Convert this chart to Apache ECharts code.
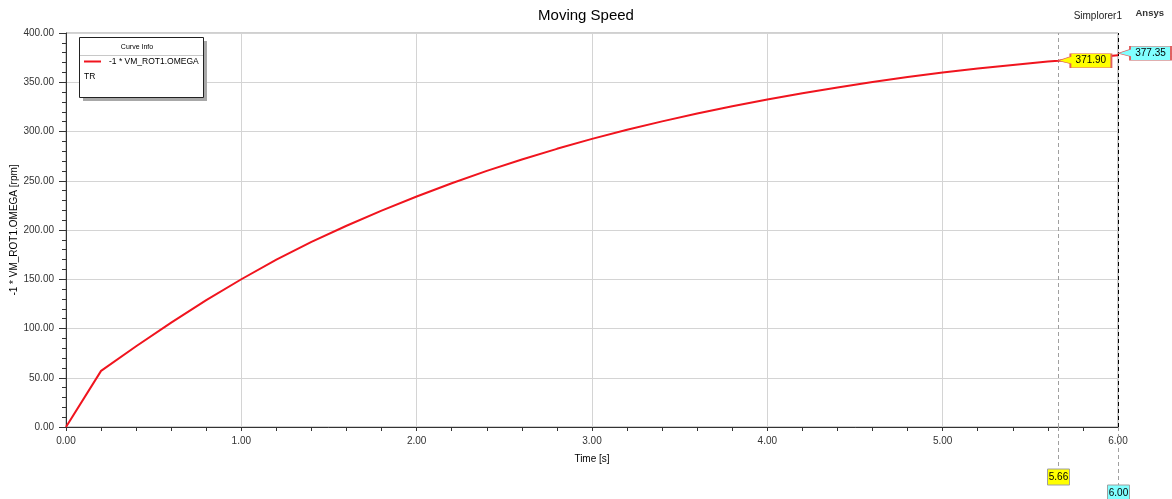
<!DOCTYPE html>
<html>
<head>
<meta charset="utf-8">
<script src="https://cdn.jsdelivr.net/npm/echarts@6/dist/echarts.min.js"></script>
<style>
html,body{margin:0;padding:0;background:#fff;}
#c{width:1172px;height:499px;}
</style>
</head>
<body>
<div id="c"></div>
<script>
// Data
const times  = [0, 0.2, 0.4, 0.6, 0.8, 1.0, 1.2, 1.4, 1.6, 1.8, 2.0, 2.2, 2.4, 2.6, 2.8, 3.0, 3.2, 3.4, 3.6, 3.8, 4.0, 4.2, 4.4, 4.6, 4.8, 5.0, 5.2, 5.4, 5.6, 5.66, 5.8, 6.0];
const speeds = [0, 57, 82, 106, 128.8, 150, 170, 188, 204.3, 219.6, 234, 247.5, 260, 271.6, 282.4, 292.5, 301.7, 310.3, 318.3, 325.7, 332.5, 338.8, 344.7, 350.2, 355.3, 360, 364, 367.6, 371, 371.9, 374.2, 377.35];
const seriesName = '-1 * VM_ROT1.OMEGA';
const markerTimes  = [5.66, 6.00];
const markerValues = [371.90, 377.35];
const markerFills  = ['#ffff00', '#80ffff'];
const markerLineColors = ['#a0a0a0', '#000000'];

const chart = echarts.init(document.getElementById('c'));
const FONT = 'Liberation Sans, Arial, sans-serif';
const calloutPath = 'path://M0 7 L12 3 L12 0 L53 0 L53 14 L12 14 L12 10 Z';

const option = {
  animation: false,
  backgroundColor: '#fff',
  textStyle: {fontFamily: FONT},
  title: {
    text: 'Moving Speed', left: 'center', top: 8, padding: 0,
    textStyle: {fontSize: 15, fontWeight: 'normal', color: '#000', fontFamily: FONT}
  },
  grid: {left: 66, right: 54, top: 33, bottom: 72, containLabel: false, outerBoundsMode: 'none',
    show: true, borderColor: '#a0a0a0', borderWidth: 1, backgroundColor: 'transparent'},
  legend: {
    show: true, left: 84, top: 57, z: 20, orient: 'vertical', padding: 0,
    icon: 'rect', itemWidth: 17, itemHeight: 2,
    textStyle: {fontSize: 8.5, color: '#000', fontFamily: FONT, padding: [0, 0, 0, 3]},
    data: [seriesName]
  },
  xAxis: {
    type: 'value', min: 0, max: 6, interval: 1,
    name: 'Time [s]', nameLocation: 'middle', nameGap: 27, nameMoveOverlap: false,
    nameTextStyle: {fontSize: 10, color: '#000', fontFamily: FONT},
    axisLine: {show: true, onZero: false, lineStyle: {color: '#333', width: 1}},
    axisTick: {show: true, length: 4, lineStyle: {color: '#333'}},
    minorTick: {show: true, splitNumber: 5, length: 4, lineStyle: {color: '#333'}},
    axisLabel: {fontSize: 10, color: '#333', margin: 9, formatter: v => v.toFixed(2), fontFamily: FONT},
    splitLine: {show: true, lineStyle: {color: '#d4d4d4', width: 1}}
  },
  yAxis: {
    type: 'value', min: 0, max: 400, interval: 50,
    name: '-1 * VM_ROT1.OMEGA [rpm]', nameLocation: 'middle', nameGap: 47, nameMoveOverlap: false,
    nameTextStyle: {fontSize: 10, color: '#000', fontFamily: FONT},
    axisLine: {show: true, onZero: false, lineStyle: {color: '#333', width: 1}},
    axisTick: {show: true, length: 7, lineStyle: {color: '#333'}},
    minorTick: {show: true, splitNumber: 5, length: 4, lineStyle: {color: '#333'}},
    axisLabel: {fontSize: 10, color: '#333', margin: 12, formatter: v => v.toFixed(2), fontFamily: FONT},
    splitLine: {show: true, lineStyle: {color: '#d4d4d4', width: 1}}
  },
  series: [{
    name: seriesName,
    type: 'line',
    showSymbol: false,
    symbol: 'none',
    smooth: false,
    clip: false,
    z: 5,
    color: '#f0141e',
    lineStyle: {color: '#f0141e', width: 2},
    data: times.map((t, i) => [t, speeds[i]]),
    markLine: {
      silent: true, symbol: 'none', animation: false, z: 4,
      label: {show: false},
      data: markerTimes.map((t, i) => ({
        xAxis: t,
        lineStyle: {color: markerLineColors[i], type: [4, 3], width: 1}
      }))
    },
    markPoint: {
      silent: true, animation: false, z: 15,
      data: markerTimes.map((t, i) => ({
        coord: [t, markerValues[i]],
        symbol: calloutPath,
        symbolSize: [53, 14],
        symbolKeepAspect: false,
        symbolOffset: [26.5, i === 1 ? -2 : 0],
        itemStyle: {color: markerFills[i], borderColor: '#e06060', borderWidth: 1},
        label: {
          show: true, position: 'inside', offset: [6, 0],
          formatter: markerValues[i].toFixed(2),
          fontSize: 10, color: '#000', fontFamily: FONT
        }
      }))
    }
  }],
  graphic: [
    {type: 'rect', z: 10, shape: {x: 83, y: 41, width: 124, height: 60}, style: {fill: '#a8a8a8'}},
    {type: 'rect', z: 11, shape: {x: 79.5, y: 37.5, width: 124, height: 60}, style: {fill: '#fff', stroke: '#222', lineWidth: 1}},
    {type: 'line', z: 12, shape: {x1: 80, y1: 55.5, x2: 203, y2: 55.5}, style: {stroke: '#c8c8c8', lineWidth: 1}},
    {type: 'text', z: 12, x: 137, y: 47, style: {text: 'Curve Info', fontSize: 7, fill: '#000', align: 'center', verticalAlign: 'middle', fontFamily: FONT}},
    {type: 'text', z: 12, x: 84, y: 77, style: {text: 'TR', fontSize: 8.5, fill: '#000', align: 'left', verticalAlign: 'middle', fontFamily: FONT}},
    {type: 'text', z: 12, x: 1122, y: 16, style: {text: 'Simplorer1', fontSize: 10, fill: '#222', align: 'right', verticalAlign: 'middle', fontFamily: FONT}},
    {type: 'text', z: 12, x: 1164, y: 13, style: {text: 'Ansys', fontSize: 9.5, fontWeight: 'bold', fill: '#333', align: 'right', verticalAlign: 'middle', fontFamily: FONT}}
  ]
};
chart.setOption(option);

// Below-axis parts of the markers, placed through the library's own scales
const extra = [];
const labelTops = [469, 485];
markerTimes.forEach((t, i) => {
  const p = chart.convertToPixel({gridIndex: 0}, [t, 0]);
  const x = Math.round(p[0]) + 0.5;
  extra.push({type: 'line', z: 3, shape: {x1: x, y1: p[1], x2: x, y2: labelTops[i]},
    style: {stroke: '#a0a0a0', lineWidth: 1, lineDash: [4, 3]}});
  extra.push({type: 'rect', z: 12, shape: {x: x - 11, y: labelTops[i], width: 22, height: 16},
    style: {fill: markerFills[i], stroke: '#a0a0a0', lineWidth: 1}});
  extra.push({type: 'text', z: 13, x: x, y: labelTops[i] + 8,
    style: {text: t.toFixed(2), fontSize: 10, fill: '#000', align: 'center', verticalAlign: 'middle', fontFamily: FONT}});
});
chart.setOption({graphic: option.graphic.concat(extra)});
</script>
</body>
</html>
